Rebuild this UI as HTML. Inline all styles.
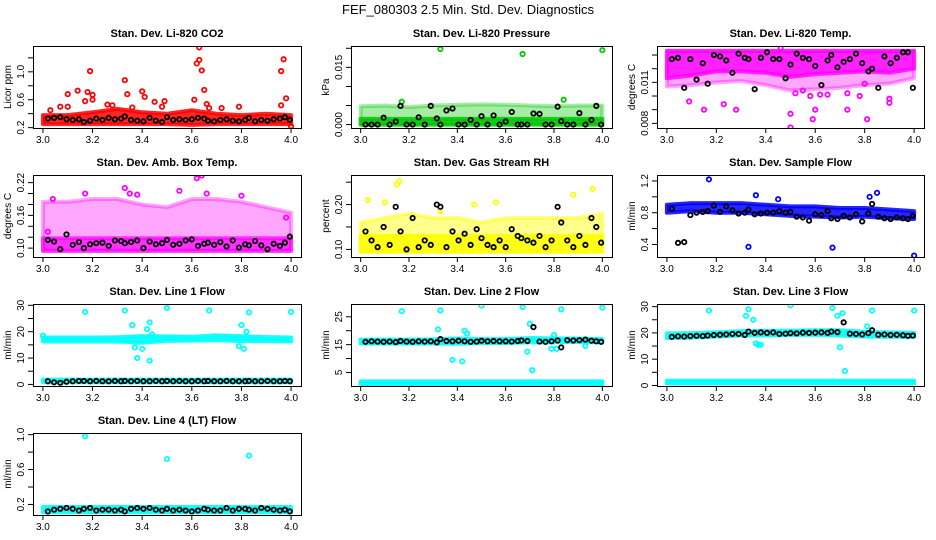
<!DOCTYPE html>
<html><head><meta charset="utf-8">
<style>
html,body{margin:0;padding:0;background:#fff;}
svg{display:block;font-family:"Liberation Sans",sans-serif;}
</style></head>
<body>
<svg id="chart" width="936" height="540" viewBox="0 0 936 540" xmlns="http://www.w3.org/2000/svg">
<rect width="936" height="540" fill="#fff"/>
<text x="468" y="14" text-anchor="middle" font-size="13">FEF_080303  2.5 Min. Std. Dev. Diagnostics</text>
</svg>
<script>
// shared time values
const blkT = [3.02,3.045,3.07,3.095,3.12,3.145,3.165,3.19,3.215,3.24,3.265,3.29,3.315,3.33,3.355,3.38,3.405,3.43,3.455,3.48,3.5,3.525,3.55,3.575,3.6,3.625,3.65,3.665,3.69,3.715,3.74,3.765,3.79,3.815,3.83,3.855,3.88,3.905,3.93,3.955,3.975,3.995];
const bandT = [3.0,3.1,3.2,3.3,3.4,3.5,3.6,3.7,3.8,3.9,4.0];
const xTicks = [3.0,3.2,3.4,3.6,3.8,4.0];
const xTickLabels = ["3.0","3.2","3.4","3.6","3.8","4.0"];

// Panel 1: CO2
const co2Lo = [0.25,0.25,0.25,0.25,0.25,0.25,0.24,0.25,0.25,0.25,0.25];
const co2Hi = [0.38,0.38,0.42,0.47,0.42,0.40,0.45,0.40,0.38,0.40,0.38];
const co2OutX = [3.03,3.07,3.10,3.10,3.14,3.17,3.18,3.19,3.20,3.20,3.26,3.28,3.33,3.34,3.36,3.40,3.41,3.45,3.48,3.49,3.61,3.62,3.63,3.63,3.64,3.65,3.66,3.67,3.72,3.79,3.96,3.96,3.97,3.98,4.0];
const co2OutY = [0.45,0.50,0.68,0.50,0.73,0.58,0.71,1.01,0.67,0.60,0.53,0.52,0.88,0.68,0.49,0.72,0.64,0.57,0.50,0.58,0.60,1.12,1.17,1.35,1.02,0.74,0.54,0.48,0.48,0.50,1.01,0.52,1.18,0.62,0.22];
const co2Blk = [0.33,0.34,0.35,0.32,0.31,0.32,0.28,0.30,0.33,0.31,0.34,0.32,0.33,0.36,0.31,0.30,0.29,0.34,0.30,0.28,0.35,0.31,0.32,0.31,0.32,0.34,0.33,0.30,0.29,0.31,0.32,0.30,0.29,0.31,0.34,0.29,0.31,0.30,0.32,0.33,0.35,0.31];

// Panel 2: Pressure
const presLo = [0,0,0,0,0,0,0,0,0,0,0];
const presHi = [0.0015,0.0015,0.0015,0.0015,0.0015,0.0015,0.0015,0.0015,0.0015,0.0015,0.0015];
const presHi2 = [0.0048,0.0050,0.0046,0.0050,0.0052,0.0053,0.0052,0.0050,0.0048,0.0050,0.0050];
const presOutX = [3.17,3.33,3.67,3.84,4.0];
const presOutY = [0.0060,0.0198,0.0185,0.0065,0.0195];
const presBlk = [0,0,0,0.0018,0,0.0008,0.0049,0,0,0.0019,0,0.0049,0.0016,0,0.0037,0.0042,0,0,0.0012,0,0.0022,0,0.0024,0,0.0008,0.0033,0,0,0,0.0029,0.0028,0,0,0.0047,0.0009,0,0,0.0030,0,0.0012,0.0049,0];

// Panel 3: Li-820 Temp
const tempLo = [0.0113,0.0115,0.0118,0.0118,0.0117,0.0114,0.0116,0.0117,0.0118,0.0117,0.0120];
const tempHi = [0.0133,0.0133,0.0133,0.0133,0.0133,0.0133,0.0133,0.0133,0.0133,0.0133,0.0133];
const tempLo2 = [0.0107,0.0108,0.0110,0.0111,0.0108,0.0104,0.0105,0.0106,0.0108,0.0109,0.0113];
const tempOutX = [3.09,3.15,3.23,3.28,3.46,3.50,3.50,3.52,3.55,3.58,3.59,3.60,3.62,3.65,3.73,3.73,3.78,3.80,3.81,3.90,3.90];
const tempOutY = [0.0096,0.0090,0.0094,0.0090,0.0135,0.0077,0.0087,0.0102,0.0104,0.0100,0.0083,0.0090,0.0101,0.0101,0.0102,0.0090,0.0100,0.0109,0.0083,0.0098,0.0095];
const tempBlk = [0.0127,0.0128,0.0106,0.0127,0.0112,0.0124,0.0109,0.0130,0.0129,0.0126,0.0117,0.0131,0.0128,0.0127,0.0105,0.0128,0.0132,0.0127,0.0127,0.0113,0.0123,0.0131,0.0128,0.0127,0.0122,0.0108,0.0126,0.0130,0.0121,0.0125,0.0127,0.0131,0.0124,0.0118,0.0120,0.0106,0.0129,0.0124,0.0128,0.0132,0.0132,0.0106];

// Panel 4: Amb box temp
const ambLo = [0.095,0.095,0.095,0.095,0.095,0.095,0.095,0.095,0.095,0.095,0.095];
const ambHi = [0.118,0.118,0.118,0.118,0.118,0.118,0.118,0.118,0.118,0.118,0.118];
const ambHi2 = [0.185,0.185,0.19,0.19,0.18,0.175,0.19,0.19,0.185,0.175,0.165];
const ambOutX = [3.02,3.04,3.17,3.33,3.35,3.38,3.55,3.62,3.64,3.66,3.80,3.98];
const ambOutY = [0.130,0.190,0.200,0.210,0.200,0.198,0.205,0.228,0.233,0.200,0.196,0.156];
const ambBlk = [0.115,0.112,0.098,0.125,0.106,0.111,0.100,0.107,0.109,0.110,0.104,0.114,0.113,0.109,0.111,0.114,0.100,0.112,0.107,0.109,0.115,0.106,0.108,0.114,0.116,0.104,0.108,0.110,0.106,0.111,0.103,0.114,0.101,0.107,0.105,0.113,0.105,0.098,0.108,0.104,0.110,0.121];

// Panel 5: Gas stream RH
const rhLo = [0.095,0.095,0.095,0.095,0.095,0.095,0.095,0.095,0.095,0.095,0.095];
const rhHi = [0.13,0.13,0.13,0.13,0.13,0.13,0.13,0.13,0.13,0.13,0.13];
const rhHi2 = [0.16,0.17,0.18,0.17,0.17,0.16,0.17,0.17,0.17,0.17,0.18];
const rhOutX = [3.03,3.10,3.15,3.16,3.33,3.47,3.56,3.88,3.96];
const rhOutY = [0.21,0.205,0.245,0.252,0.185,0.20,0.205,0.222,0.235];
const rhBlk = [0.14,0.12,0.105,0.15,0.11,0.195,0.14,0.10,0.17,0.105,0.12,0.11,0.20,0.195,0.105,0.14,0.12,0.135,0.11,0.145,0.125,0.11,0.105,0.12,0.105,0.145,0.13,0.125,0.12,0.115,0.13,0.105,0.12,0.195,0.16,0.12,0.105,0.13,0.11,0.17,0.15,0.115];

// Panel 6: Sample flow
const sfLo = [0.80,0.82,0.80,0.80,0.78,0.76,0.75,0.74,0.75,0.73,0.72];
const sfHi = [0.90,0.92,0.92,0.92,0.90,0.88,0.88,0.86,0.86,0.84,0.82];
const sfOutX = [3.17,3.33,3.36,3.45,3.67,3.82,3.85,4.0];
const sfOutY = [1.22,0.37,1.02,0.97,0.36,1.00,1.05,0.26];
const sfBlk = [0.85,0.42,0.43,0.77,0.80,0.81,0.82,0.89,0.81,0.88,0.83,0.79,0.80,0.84,0.78,0.79,0.80,0.80,0.82,0.80,0.81,0.75,0.74,0.70,0.78,0.77,0.82,0.73,0.72,0.76,0.74,0.78,0.69,0.79,0.91,0.75,0.73,0.72,0.74,0.73,0.72,0.76];

// Panel 7: Line 1 flow
const l1Lo = [16.3,16.3,16.3,16.3,15.8,16.5,16.6,16.8,16.4,16.4,16.3];
const l1Hi = [17.8,17.8,17.8,17.9,18.3,18.2,18.1,18.6,18.3,18.0,17.8];
const l1BotLo = [0.8,0.8,0.8,0.8,0.8,0.8,0.8,0.8,0.8,0.8,0.8];
const l1BotHi = [1.8,1.8,1.8,1.8,1.8,1.8,1.8,1.8,1.8,1.8,1.8];
const l1OutX = [3.0,3.17,3.33,3.36,3.37,3.38,3.40,3.42,3.43,3.43,3.44,3.50,3.67,3.79,3.80,3.81,3.82,3.83,4.0];
const l1OutY = [18.5,27.5,28.0,22.5,14.0,10.0,13.5,21.0,23.5,9.0,19.0,29.0,28.0,14.5,22.5,13.5,20.0,27.3,27.5];
const l1Blk = [1.2,0.8,0.6,1.0,1.2,1.3,1.3,1.2,1.3,1.2,1.2,1.3,1.2,1.3,1.2,1.3,1.2,1.2,1.3,1.2,1.3,1.2,1.3,1.2,1.2,1.3,1.2,1.3,1.2,1.2,1.3,1.2,1.2,1.2,1.3,1.2,1.2,1.3,1.2,1.2,1.3,1.2];

// Panel 8: Line 2 flow
const l2Lo = [15.4,15.4,15.4,15.4,15.3,15.6,15.6,15.8,15.8,16.0,15.8];
const l2Hi = [16.8,16.8,16.8,16.9,17.2,17.0,17.0,17.4,17.2,17.2,17.0];
const l2BotLo = [0.8,0.8,0.8,0.8,0.8,0.8,0.8,0.8,0.8,0.8,0.8];
const l2BotHi = [1.8,1.8,1.8,1.8,1.8,1.8,1.8,1.8,1.8,1.8,1.8];
const l2OutX = [3.17,3.32,3.33,3.38,3.42,3.43,3.44,3.50,3.67,3.69,3.70,3.71,3.79,3.80,3.81,3.83,3.93,4.0];
const l2OutY = [27.0,20.5,27.3,9.5,9.0,20.0,19.0,29.0,28.5,12.5,22.5,5.8,13.5,18.5,13.5,27.7,14.5,28.3];
const l2Blk = [16.0,16.2,16.1,16.0,16.1,15.9,16.3,16.1,16.0,16.2,16.1,16.2,15.8,17.0,16.3,16.2,16.4,16.2,16.0,16.1,16.4,16.2,16.3,16.2,16.2,16.1,16.3,16.5,16.3,21.3,16.1,16.0,16.2,16.5,14.0,16.6,16.5,16.6,16.8,16.4,16.2,16.0];

// Panel 9: Line 3 flow
const l3Lo = [18.0,18.2,18.6,19.0,19.0,19.2,19.3,19.0,18.6,18.5,18.5];
const l3Hi = [19.8,19.9,20.2,20.7,20.8,20.8,21.0,21.0,20.4,20.2,20.0];
const l3BotLo = [0.8,0.8,0.8,0.8,0.8,0.8,0.8,0.8,0.8,0.8,0.8];
const l3BotHi = [1.8,1.8,1.8,1.8,1.8,1.8,1.8,1.8,1.8,1.8,1.8];
const l3OutX = [3.17,3.32,3.33,3.35,3.36,3.37,3.38,3.50,3.67,3.69,3.70,3.71,3.72,3.81,3.83,4.0];
const l3OutY = [28.5,26.5,29.0,25.0,16.0,15.5,15.5,30.5,29.5,26.5,14.5,27.5,5.5,22.5,28.5,28.5];
const l3Blk = [18.5,18.7,18.6,18.8,18.9,18.8,19.0,19.2,19.3,19.4,19.6,19.6,19.2,20.5,20.0,20.2,20.0,20.2,19.6,19.7,19.9,19.8,20.1,20.0,20.1,20.2,20.0,20.5,20.3,24.0,19.7,19.6,19.4,19.9,21.0,19.3,19.4,19.2,19.3,19.1,18.9,19.0];

// Panel 10: Line 4 (LT) flow
const l4Lo = [0.11,0.11,0.11,0.11,0.11,0.11,0.11,0.11,0.11,0.11,0.11];
const l4Hi = [0.17,0.17,0.17,0.17,0.17,0.17,0.17,0.17,0.17,0.17,0.17];
const l4OutX = [3.17,3.50,3.83];
const l4OutY = [0.98,0.72,0.76];
const l4Blk = [0.12,0.14,0.15,0.16,0.15,0.13,0.15,0.16,0.13,0.14,0.14,0.13,0.14,0.12,0.15,0.16,0.15,0.16,0.14,0.13,0.15,0.13,0.14,0.13,0.12,0.13,0.15,0.14,0.13,0.13,0.16,0.13,0.15,0.15,0.14,0.13,0.16,0.15,0.14,0.13,0.14,0.12];

const svg = document.getElementById('chart');
const NS = 'http://www.w3.org/2000/svg';
function mk(tag, attrs, parent){
  const e = document.createElementNS(NS, tag);
  for (const k in attrs) e.setAttribute(k, attrs[k]);
  (parent||svg).appendChild(e);
  return e;
}

const panels = [
 {name:'co2', title:'Stan. Dev. Li-820 CO2', ylab:'Licor ppm', col:'#ff0000', left:33, top:46, w:268, ymin:0.195, ymax:1.37,
  ticks:[0.2,0.4,0.6,0.8,1.0,1.2], labels:[0.2,0.6,1.0], fmt:1,
  bands:[[co2Lo,co2Hi,0.85]], outX:co2OutX, outY:co2OutY, blk:co2Blk},
 {name:'pressure', title:'Stan. Dev. Li-820 Pressure', ylab:'kPa', col:'#00c800', left:351, top:46, w:261, ymin:-0.0009, ymax:0.0206,
  ticks:[0,0.005,0.01,0.015,0.02], labels:[0,0.015], fmt:3,
  bands:[[presLo,presHi2,0.35],[presLo,presHi,0.85]], outX:presOutX, outY:presOutY, blk:presBlk},
 {name:'temp', title:'Stan. Dev. Li-820 Temp.', ylab:'degrees C', col:'#ff00ff', left:657, top:46, w:267, ymin:0.00766, ymax:0.01366,
  ticks:[0.008,0.009,0.010,0.011,0.012,0.013], labels:[0.008,0.011], fmt:3,
  bands:[[tempLo2,tempHi,0.35],[tempLo,tempHi,0.8]], outX:tempOutX, outY:tempOutY, blk:tempBlk},
 {name:'amb-temp', title:'Stan. Dev. Amb. Box Temp.', ylab:'degrees C', col:'#ff00ff', left:33, top:175, w:268, ymin:0.0837, ymax:0.234,
  ticks:[0.10,0.12,0.14,0.16,0.18,0.20,0.22], labels:[0.10,0.16,0.22], fmt:2,
  bands:[[ambLo,ambHi2,0.35],[ambLo,ambHi,0.7]], outX:ambOutX, outY:ambOutY, blk:ambBlk},
 {name:'rh', title:'Stan. Dev. Gas Stream RH', ylab:'percent', col:'#ffff00', left:351, top:175, w:261, ymin:0.083, ymax:0.266,
  ticks:[0.10,0.15,0.20,0.25], labels:[0.10,0.20], fmt:2,
  bands:[[rhLo,rhHi2,0.45],[rhLo,rhHi,0.85]], outX:rhOutX, outY:rhOutY, blk:rhBlk},
 {name:'sample-flow', title:'Stan. Dev. Sample Flow', ylab:'ml/min', col:'#0000ff', left:657, top:175, w:267, ymin:0.242, ymax:1.275,
  ticks:[0.4,0.6,0.8,1.0,1.2], labels:[0.4,0.8,1.2], fmt:1,
  bands:[[sfLo,sfHi,0.85]], outX:sfOutX, outY:sfOutY, blk:sfBlk},
 {name:'line1-flow', title:'Stan. Dev. Line 1 Flow', ylab:'ml/min', col:'#00ffff', left:33, top:304, w:268, ymin:-0.6, ymax:30.5,
  ticks:[0,5,10,15,20,25,30], labels:[0,10,20,30], fmt:0,
  bands:[[l1Lo,l1Hi,0.9],[l1BotLo,l1BotHi,0.9]], outX:l1OutX, outY:l1OutY, blk:l1Blk},
 {name:'line2-flow', title:'Stan. Dev. Line 2 Flow', ylab:'ml/min', col:'#00ffff', left:351, top:304, w:261, ymin:0.14, ymax:29.6,
  ticks:[5,10,15,20,25], labels:[5,15,25], fmt:0,
  bands:[[l2Lo,l2Hi,0.9],[l2BotLo,l2BotHi,0.95]], outX:l2OutX, outY:l2OutY, blk:l2Blk},
 {name:'line3-flow', title:'Stan. Dev. Line 3 Flow', ylab:'ml/min', col:'#00ffff', left:657, top:304, w:267, ymin:-0.2, ymax:31.0,
  ticks:[0,5,10,15,20,25,30], labels:[0,10,20,30], fmt:0,
  bands:[[l3Lo,l3Hi,0.9],[l3BotLo,l3BotHi,0.95]], outX:l3OutX, outY:l3OutY, blk:l3Blk},
 {name:'line4-flow', title:'Stan. Dev. Line 4 (LT) Flow', ylab:'ml/min', col:'#00ffff', left:33, top:433, w:268, ymin:0.079, ymax:1.019,
  ticks:[0.2,0.4,0.6,0.8,1.0], labels:[0.2,0.6,1.0], fmt:1,
  bands:[[l4Lo,l4Hi,0.9]], outX:l4OutX, outY:l4OutY, blk:l4Blk}
];

const H = 82;
panels.forEach(p => {
  const g = mk('g', {});
  
  
  const x0 = p.left + p.w*0.04/1.08;
  const xs = p.w/1.08;
  const X = v => x0 + (v-3.0)*xs;
  const Y = v => p.top + H - (v-p.ymin)/(p.ymax-p.ymin)*H;
  const bottom = p.top + H;

  const t = mk('text', {x: p.left + p.w/2, y: p.top - 9, 'text-anchor':'middle', 'font-size':11, 'font-weight':'bold'}, g);
  
  
  t.textContent = p.title;

  const clip = mk('clipPath', {id:'c-'+p.name}, g);
  mk('rect', {x:p.left, y:p.top, width:p.w, height:H}, clip);
  const plot = mk('g', {'clip-path':'url(#c-'+p.name+')'}, g);

  p.bands.forEach((b, bi) => {
    let pts = bandT.map((tv,i)=>X(tv)+','+Y(b[1][i]));
    pts = pts.concat(bandT.slice().reverse().map((tv,j)=>{const i=bandT.length-1-j; return X(tv)+','+Y(b[0][i]);}));
    const poly = mk('polygon', {points: pts.join(' '), fill:p.col, 'fill-opacity':b[2], stroke:p.col, 'stroke-opacity':b[2], 'stroke-width':4, 'stroke-linejoin':'round'}, plot);
    
    
  });
  p.outX.forEach((xv,i) => {
    const c = mk('circle', {cx:X(xv), cy:Y(p.outY[i]), r:2.2, fill:'none', stroke:p.col, 'stroke-width':1.8}, plot);
    
    
  });
  blkT.forEach((xv,i) => {
    const c = mk('circle', {cx:X(xv), cy:Y(p.blk[i]), r:2.2, fill:'none', stroke:'#000', 'stroke-width':1.8}, plot);
    
    
  });

  const box = mk('rect', {x:p.left+0.5, y:p.top+0.5, width:p.w, height:H, fill:'none', stroke:'#000', 'stroke-width':1}, g);
  
  

  xTicks.forEach((tv,i) => {
    mk('line', {x1:X(tv), x2:X(tv), y1:bottom, y2:bottom+5, stroke:'#000'}, g);
    const lt = mk('text', {x:X(tv), y:bottom+15, 'text-anchor':'middle', 'font-size':10}, g);
    
    
    lt.textContent = xTickLabels[i];
  });
  p.ticks.forEach(tv => {
    mk('line', {x1:p.left-5, x2:p.left, y1:Y(tv), y2:Y(tv), stroke:'#000'}, g);
  });
  p.labels.forEach(tv => {
    const lx = p.left - 9, ly = Y(tv);
    const lt = mk('text', {x:lx, y:ly, 'text-anchor':'middle', 'font-size':10, transform:'rotate(-90 '+lx+' '+ly+')'}, g);
    
    
    lt.textContent = tv.toFixed(p.fmt);
  });
  const yx = p.left - 22, yy = p.top + H/2;
  const yl = mk('text', {x:yx, y:yy, 'text-anchor':'middle', 'font-size':10, transform:'rotate(-90 '+yx+' '+yy+')'}, g);
  
  
  yl.textContent = p.ylab;
});
</script>
</body></html>
